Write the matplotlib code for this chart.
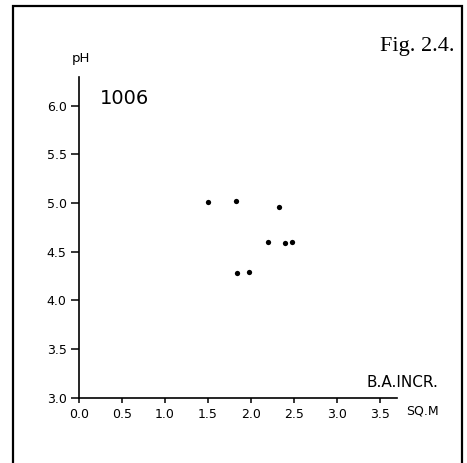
import matplotlib
matplotlib.use("Agg")
from matplotlib import pyplot as plt
from matplotlib.patches import Rectangle

#data
ba_incr = [1.50, 1.83, 2.33, 2.20, 2.40, 2.48, 1.84, 1.98]
ph = [5.01, 5.02, 4.96, 4.60, 4.59, 4.60, 4.28, 4.29]
xticks = [0.0, 0.5, 1.0, 1.5, 2.0, 2.5, 3.0, 3.5]
yticks = [3.0, 3.5, 4.0, 4.5, 5.0, 5.5, 6.0]

W, H = 467, 463
fig = plt.figure(figsize=(W/100, H/100), dpi=100)
ax = fig.add_axes([79/W, 65.3/H, 318.2/W, 321.1/H])

ax.plot(ba_incr, ph, 'o', color='black', markersize=3.8, markeredgewidth=0)

ax.set_xlim(0, 3.7)
ax.set_ylim(3.0, 6.3)
ax.set_xticks(xticks)
ax.set_yticks(yticks)
ax.set_xticklabels(["%.1f" % v for v in xticks])
ax.set_yticklabels(["%.1f" % v for v in yticks])
for s in ['top', 'right']:
    ax.spines[s].set_visible(False)
for s in ['left', 'bottom']:
    ax.spines[s].set_linewidth(1.2)
ax.tick_params(axis='y', direction='out', length=5.8, width=1.1, pad=3.2, labelsize=9)
ax.tick_params(axis='x', direction='out', length=3.6, width=1.1, pad=3.8, labelsize=9)

#labels
fig.text(81/W, 1-62/H, 'pH', ha='center', va='baseline', fontsize=9.5)
fig.text(100/W, 1-104/H, '1006', ha='left', va='baseline', fontsize=14)
fig.text(438/W, 1-387/H, 'B.A.INCR.', ha='right', va='baseline', fontsize=11)
fig.text(439/W, 1-415/H, 'SQ.M', ha='right', va='baseline', fontsize=9)
fig.text(455/W, 1-51/H, 'Fig. 2.4.', ha='right', va='baseline', fontsize=16,
         family=['Liberation Serif', 'DejaVu Serif'])

#frame round the plate (open at the bottom)
fig.patches.append(Rectangle((13/W, -0.05), (462-13)/W, 1.05-6/H, transform=fig.transFigure,
                             fill=False, edgecolor='black', linewidth=1.6, clip_on=False))

fig.savefig('out.png', dpi=100)
